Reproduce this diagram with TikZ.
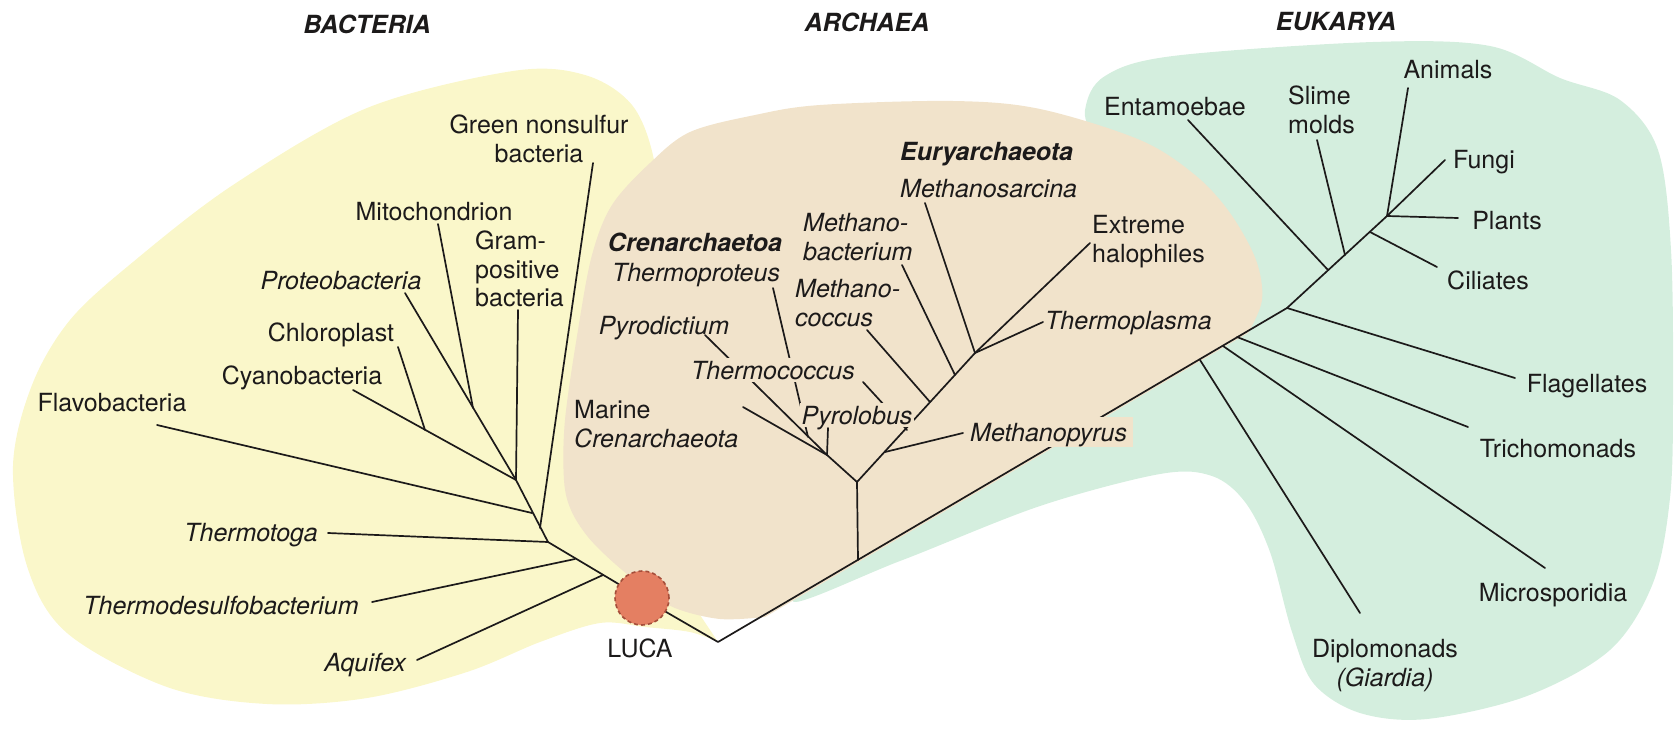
\documentclass[tikz,border=0pt]{standalone}
\usepackage{fontspec}
\setmainfont{TeX Gyre Heros}
\definecolor{bacY}{RGB}{250,247,202}
\definecolor{arcT}{RGB}{241,227,203}
\definecolor{eukG}{RGB}{212,238,222}
\definecolor{lucaF}{RGB}{228,127,98}
\definecolor{lucaD}{RGB}{165,78,58}
\definecolor{inkC}{RGB}{28,26,26}
\tikzset{
  lbl/.style={inner sep=0pt, text height=18pt, text depth=0pt, text=inkC, font=\fontsize{25}{28.5}\selectfont},
  ilbl/.style={lbl, font=\fontsize{25}{28.5}\selectfont\itshape},
  bilbl/.style={lbl, font=\fontsize{25}{28.5}\selectfont\bfseries\itshape},
  head/.style={bilbl},
  twoline/.style={text height=46.5pt, text depth=0pt},
  threeline/.style={text height=75pt, text depth=0pt},
  knock/.style={fill=arcT, inner xsep=2pt, inner ysep=3pt},
  br/.style={line width=1.7pt, line join=round, line cap=round, draw=inkC},
}
\begin{document}
\begin{tikzpicture}[x=1pt,y=-1pt]
\useasboundingbox (0,0) rectangle (1680,730);
% ---------- regions ----------
\fill[eukG] plot[smooth cycle, tension=0.55] coordinates {(793,599) (900,561) (1040,506) (1160,474) (1212,476) (1245,502) (1270,552) (1292,632) (1314,684) (1360,713) (1427,719) (1527,696) (1610,650) (1653,583) (1670,498) (1673,398) (1671,250) (1658,150) (1620,100) (1560,78) (1490,46) (1373,42) (1173,56) (1105,76) (1085,110) (1090,160) (1050,300) (950,470)};
\fill[bacY] plot[smooth, tension=0.55] coordinates {(718,642) (690,632) (645,627) (600,623) (540,642) (467,672) (367,698) (267,704) (167,687) (67,633) (27,566) (13,466) (32,385) (70,320) (133,262) (233,185) (367,108) (513,71) (585,75) (632,105) (654,160) (660,240) (645,350) (630,470) (650,560) (700,615)} -- cycle;
\fill[arcT] plot[smooth, tension=0.55] coordinates {(1248,333) (1262,300) (1256,260) (1230,213) (1195,175) (1140,140) (1040,109) (953,101) (820,105) (755,115) (690,132) (650,163) (612,205) (592,255) (578,330) (565,420) (564,480) (571,510) (588,537) (614,563) (645,588) (675,608) (720,619) (765,617)} -- cycle;
% ---------- coordinates ----------
\coordinate (V) at (718,642);
\coordinate (lc) at (642,598);
\coordinate (bAq) at (603,575);
\coordinate (bTd) at (575,559);
\coordinate (bTt) at (548,542);
\coordinate (bGn) at (540,528);
\coordinate (bFl) at (532,513);
\coordinate (bTop) at (516,480);
\coordinate (bCh) at (425,430);
\coordinate (bMi) at (473,408);
\coordinate (eAq) at (417,660);
\coordinate (eTd) at (372,602);
\coordinate (eTt) at (328,533);
\coordinate (eFl) at (157,425);
\coordinate (eGn) at (593,163);
\coordinate (eGp) at (518,310);
\coordinate (eCy) at (353,390);
\coordinate (eCh) at (398,347);
\coordinate (ePr) at (405,293);
\coordinate (eMi) at (438,224);
\coordinate (B) at (858,560);
\coordinate (A) at (857,482);
\coordinate (C) at (827,455);
\coordinate (E) at (975,353);
\coordinate (E1) at (885,452);
\coordinate (E2) at (930,402);
\coordinate (E3) at (955,375);
\coordinate (Etc) at (907,430);
\coordinate (Ctp) at (808,437);
\coordinate (eMa) at (743,407);
\coordinate (ePd) at (705,335);
\coordinate (eTp) at (773,288);
\coordinate (ePl) at (828,428);
\coordinate (eTc) at (863,382);
\coordinate (eMp) at (963,433);
\coordinate (eMc) at (867,330);
\coordinate (eMb) at (902,265);
\coordinate (eMs) at (925,203);
\coordinate (eEh) at (1090,243);
\coordinate (eTpl) at (1043,322);
\coordinate (K1) at (1200,360);
\coordinate (K2) at (1223,346);
\coordinate (K3) at (1237,337);
\coordinate (K4) at (1287,308);
\coordinate (K5) at (1328,270);
\coordinate (K6) at (1345,255);
\coordinate (K7) at (1370,232);
\coordinate (K8) at (1387,216);
\coordinate (eDi) at (1360,613);
\coordinate (eMsp) at (1545,568);
\coordinate (eTr) at (1468,427);
\coordinate (eFg) at (1515,378);
\coordinate (eEn) at (1188,120);
\coordinate (eSl) at (1317,140);
\coordinate (eCi) at (1437,267);
\coordinate (eAn) at (1408,88);
\coordinate (eFu) at (1445,160);
\coordinate (ePn) at (1458,218);
% ---------- branches ----------
\draw[br] (bTop) -- (bTt) -- (lc) -- (V) -- (K4) -- (K8);
\draw[br] (eAq) -- (bAq);
\draw[br] (eTd) -- (bTd);
\draw[br] (eTt) -- (bTt);
\draw[br] (eFl) -- (bFl);
\draw[br] (eGn) -- (bGn);
\draw[br] (eGp) -- (bTop);
\draw[br] (eCy) -- (bTop);
\draw[br] (eCh) -- (bCh);
\draw[br] (ePr) -- (bTop);
\draw[br] (eMi) -- (bMi);
\draw[br] (B) -- (A) -- (C);
\draw[br] (A) -- (E);
\draw[br] (eMa) -- (C);
\draw[br] (ePd) -- (C);
\draw[br] (eTp) -- (Ctp);
\draw[br] (ePl) -- (C);
\draw[br] (eTc) -- (Etc);
\draw[br] (eMp) -- (E1);
\draw[br] (eMc) -- (E2);
\draw[br] (eMb) -- (E3);
\draw[br] (eMs) -- (E);
\draw[br] (eEh) -- (E);
\draw[br] (eTpl) -- (E);
\draw[br] (K1) -- (eDi);
\draw[br] (K2) -- (eMsp);
\draw[br] (K3) -- (eTr);
\draw[br] (K4) -- (eFg);
\draw[br] (K5) -- (eEn);
\draw[br] (K6) -- (eSl);
\draw[br] (K7) -- (eCi);
\draw[br] (K8) -- (eAn);
\draw[br] (K8) -- (eFu);
\draw[br] (K8) -- (ePn);
% ---------- LUCA ----------
\node[circle, minimum size=54pt, inner sep=0pt, fill=lucaF, draw=lucaD, line width=1.6pt, dash pattern=on 4pt off 3pt] (luca) at (lc) {};
\node[lbl] (lu) at (640,648) {LUCA};
% ---------- headings ----------
\node[head] (hb) at (367,25) {BACTERIA};
\node[head] (ha) at (867,23) {ARCHAEA};
\node[head] (he) at (1336,22) {EUKARYA};
% ---------- bacteria labels ----------
\node[lbl, twoline, align=center] (gn) at (539,139) {Green nonsulfur\\bacteria};
\node[lbl] (mi) at (434,211) {Mitochondrion};
\node[lbl, threeline, align=left, anchor=west] (gp) at (475,269) {Gram-\\positive\\bacteria};
\node[ilbl] (pr) at (341,280) {Proteobacteria};
\node[lbl] (ch) at (331,332) {Chloroplast};
\node[lbl] (cy) at (302,375) {Cyanobacteria};
\node[lbl] (fl) at (112,402) {Flavobacteria};
\node[ilbl] (tt) at (251,532) {Thermotoga};
\node[ilbl] (td) at (221,605) {Thermodesulfobacterium};
\node[ilbl] (aq) at (365,662) {Aquifex};
% ---------- archaea labels ----------
\node[bilbl] (cr) at (695,242) {Crenarchaetoa};
\node[ilbl] (tp) at (696,272) {Thermoproteus};
\node[ilbl] (pd) at (664,325) {Pyrodictium};
\node[ilbl, knock] (tc) at (773,370) {Thermococcus};
\node[lbl, twoline, align=left, anchor=west] (mcr) at (574,424) {Marine\\\textit{Crenarchaeota}};
\node[ilbl, knock] (pl) at (857,415) {Pyrolobus};
\node[ilbl, twoline, align=left, anchor=west] (mb) at (803,237) {Methano-\\bacterium};
\node[ilbl, twoline, align=left, anchor=west] (mc) at (795,303) {Methano-\\coccus};
\node[bilbl, anchor=west] (eu) at (900,152) {Euryarchaeota};
\node[ilbl, anchor=west] (ms) at (900,188) {Methanosarcina};
\node[lbl, twoline, align=left, anchor=west] (eh) at (1092,239) {Extreme\\halophiles};
\node[ilbl, anchor=west] (tpl) at (1045,320) {Thermoplasma};
\node[ilbl, fill=arcT, inner xsep=6pt, inner ysep=6pt, anchor=west] (mp) at (964,432) {Methanopyrus};
% ---------- eukarya labels ----------
\node[lbl] (en) at (1175,107) {Entamoebae};
\node[lbl, twoline, align=left, anchor=west] (sm) at (1288,110) {Slime\\molds};
\node[lbl] (an) at (1448,70) {Animals};
\node[lbl] (fu) at (1484,160) {Fungi};
\node[lbl] (pn) at (1507,220) {Plants};
\node[lbl] (ci) at (1488,280) {Ciliates};
\node[lbl] (fg) at (1587,383) {Flagellates};
\node[lbl] (tr) at (1558,448) {Trichomonads};
\node[lbl] (msp) at (1553,592) {Microsporidia};
\node[lbl, twoline, align=center] (di) at (1385,663) {Diplomonads\\\textit{(Giardia)}};
\end{tikzpicture}
\end{document}
